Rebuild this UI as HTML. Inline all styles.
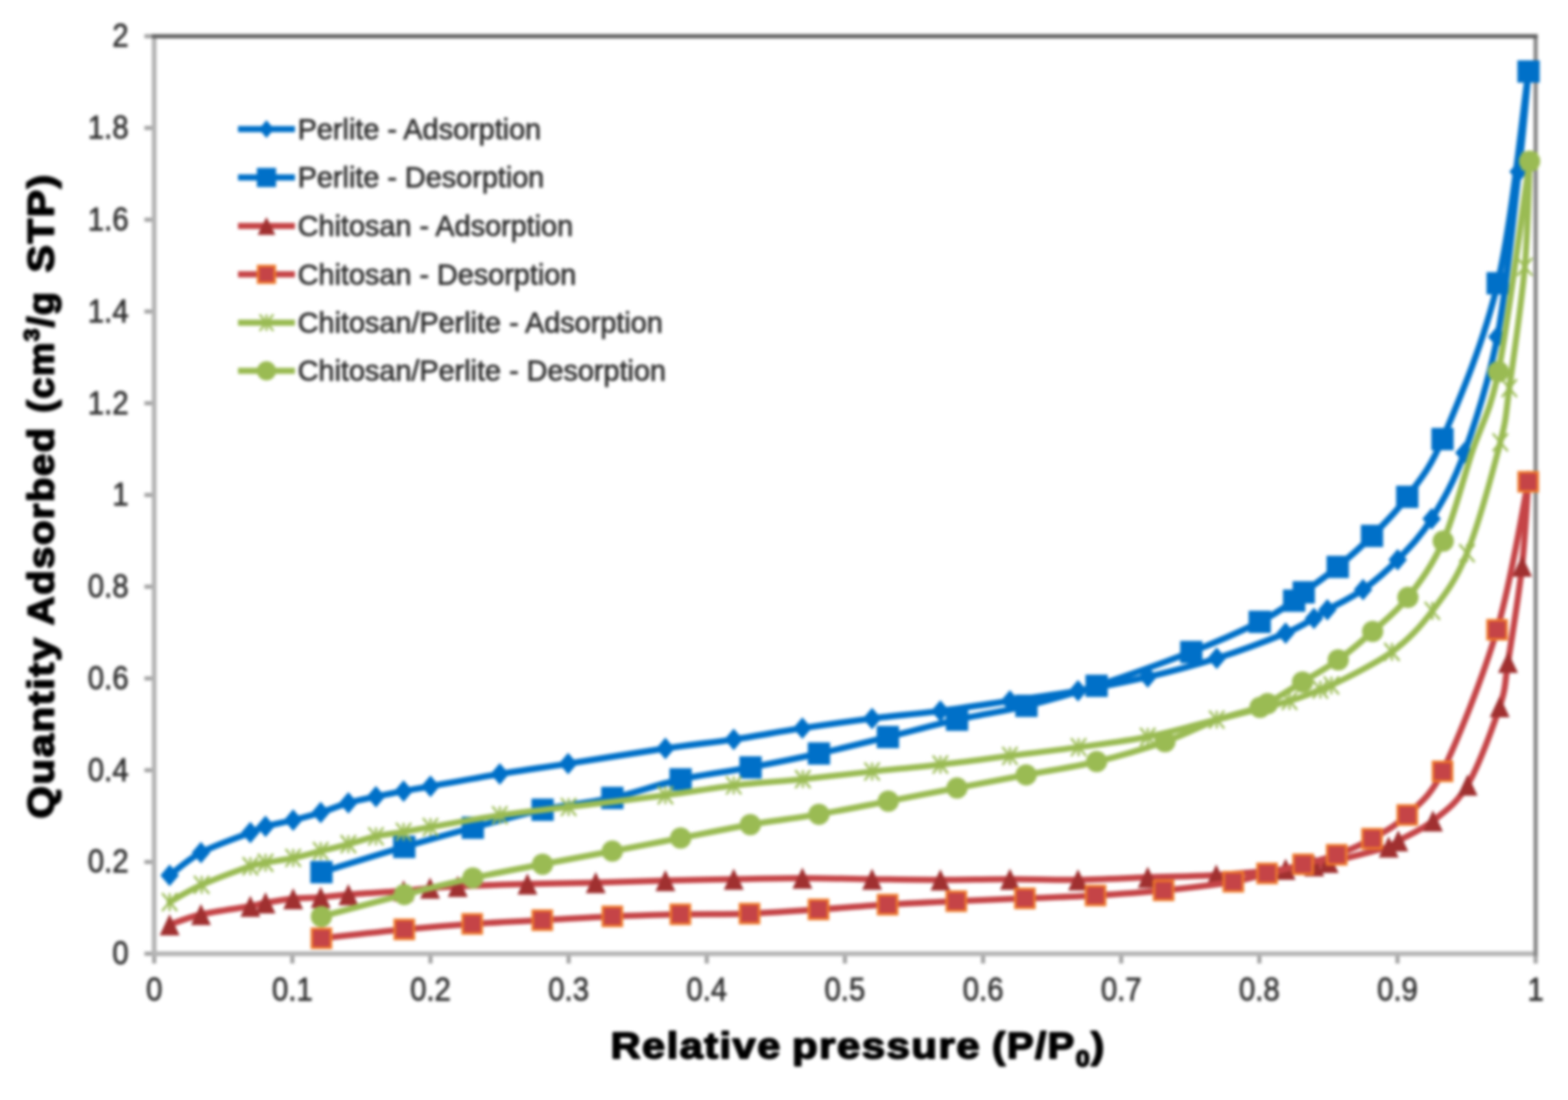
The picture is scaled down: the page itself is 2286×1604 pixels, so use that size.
<!DOCTYPE html>
<html lang="en">
<head>
<meta charset="utf-8">
<title>Nitrogen adsorption-desorption isotherms</title>
<style>
html,body{margin:0;padding:0;background:#fff;}
body{width:2286px;height:1604px;overflow:hidden;font-family:"Liberation Sans",Arial,sans-serif;}
svg{display:block;}
#chart{filter:blur(1.9px);}
</style>
</head>
<body>
<svg xmlns="http://www.w3.org/2000/svg" width="2286" height="1604" viewBox="0 0 2286 1604">
<rect width="2286" height="1604" fill="#fff"/>
<g id="chart">
<g id="axes" fill="none" stroke-width="7">
<path d="M210.5,1390.7 H224.8" stroke="#a2a2a2" stroke-width="6"/>
<path d="M210.5,1256.9 H224.8" stroke="#a2a2a2" stroke-width="6"/>
<path d="M210.5,1123.1 H224.8" stroke="#a2a2a2" stroke-width="6"/>
<path d="M210.5,989.3 H224.8" stroke="#a2a2a2" stroke-width="6"/>
<path d="M210.5,855.5 H224.8" stroke="#a2a2a2" stroke-width="6"/>
<path d="M210.5,721.8 H224.8" stroke="#a2a2a2" stroke-width="6"/>
<path d="M210.5,588 H224.8" stroke="#a2a2a2" stroke-width="6"/>
<path d="M210.5,454.2 H224.8" stroke="#a2a2a2" stroke-width="6"/>
<path d="M210.5,320.4 H224.8" stroke="#a2a2a2" stroke-width="6"/>
<path d="M210.5,186.6 H224.8" stroke="#a2a2a2" stroke-width="6"/>
<path d="M210.5,52.8 H224.8" stroke="#a2a2a2" stroke-width="6"/>
<path d="M224.8,1390.7 V1405" stroke="#a2a2a2" stroke-width="6"/>
<path d="M426.2,1390.7 V1405" stroke="#a2a2a2" stroke-width="6"/>
<path d="M627.6,1390.7 V1405" stroke="#a2a2a2" stroke-width="6"/>
<path d="M829,1390.7 V1405" stroke="#a2a2a2" stroke-width="6"/>
<path d="M1030.4,1390.7 V1405" stroke="#a2a2a2" stroke-width="6"/>
<path d="M1231.8,1390.7 V1405" stroke="#a2a2a2" stroke-width="6"/>
<path d="M1433.2,1390.7 V1405" stroke="#a2a2a2" stroke-width="6"/>
<path d="M1634.6,1390.7 V1405" stroke="#a2a2a2" stroke-width="6"/>
<path d="M1836,1390.7 V1405" stroke="#a2a2a2" stroke-width="6"/>
<path d="M2037.4,1390.7 V1405" stroke="#a2a2a2" stroke-width="6"/>
<path d="M2238.8,1390.7 V1405" stroke="#a2a2a2" stroke-width="6"/>
<path d="M224.8,52.8 V1394.2" stroke="#b4b4b4"/>
<path d="M221.3,1390.7 H2238.8" stroke="#b4b4b4"/>
<path d="M2238.8,52.8 V1394.2" stroke="#888888" stroke-width="6.2"/>
<path d="M221.3,52.8 H2241.9" stroke="#626262" stroke-width="6.2"/>
</g>
<g id="ylabels" font-family="'Liberation Sans', Arial, sans-serif" font-size="48" fill="#2f2f2f" stroke="#2f2f2f" stroke-width="1" text-anchor="end">
<text transform="translate(187.5,1406.2) scale(0.89,1)">0</text>
<text transform="translate(187.5,1272.4) scale(0.89,1)">0.2</text>
<text transform="translate(187.5,1138.6) scale(0.89,1)">0.4</text>
<text transform="translate(187.5,1004.8) scale(0.89,1)">0.6</text>
<text transform="translate(187.5,871) scale(0.89,1)">0.8</text>
<text transform="translate(187.5,737.2) scale(0.89,1)">1</text>
<text transform="translate(187.5,603.5) scale(0.89,1)">1.2</text>
<text transform="translate(187.5,469.7) scale(0.89,1)">1.4</text>
<text transform="translate(187.5,335.9) scale(0.89,1)">1.6</text>
<text transform="translate(187.5,202.1) scale(0.89,1)">1.8</text>
<text transform="translate(187.5,68.3) scale(0.89,1)">2</text>
</g>
<g id="xlabels" font-family="'Liberation Sans', Arial, sans-serif" font-size="48" fill="#2f2f2f" stroke="#2f2f2f" stroke-width="1" text-anchor="middle">
<text transform="translate(224.8,1458.5) scale(0.89,1)">0</text>
<text transform="translate(426.2,1458.5) scale(0.89,1)">0.1</text>
<text transform="translate(627.6,1458.5) scale(0.89,1)">0.2</text>
<text transform="translate(829,1458.5) scale(0.89,1)">0.3</text>
<text transform="translate(1030.4,1458.5) scale(0.89,1)">0.4</text>
<text transform="translate(1231.8,1458.5) scale(0.89,1)">0.5</text>
<text transform="translate(1433.2,1458.5) scale(0.89,1)">0.6</text>
<text transform="translate(1634.6,1458.5) scale(0.89,1)">0.7</text>
<text transform="translate(1836,1458.5) scale(0.89,1)">0.8</text>
<text transform="translate(2037.4,1458.5) scale(0.89,1)">0.9</text>
<text transform="translate(2238.8,1458.5) scale(0.89,1)">1</text>
</g>
<g id="titles" font-family="'Liberation Sans', Arial, sans-serif" font-weight="bold" font-size="53.5" letter-spacing="2" fill="#000" stroke="#000" stroke-width="2.3" stroke-linejoin="round">
<text x="890.3" y="1543" textLength="249.4" lengthAdjust="spacingAndGlyphs">Relative</text>
<text x="1154.8" y="1543" textLength="275.5" lengthAdjust="spacingAndGlyphs">pressure</text>
<text x="1446.3" y="1543" textLength="165.9" lengthAdjust="spacingAndGlyphs">(P/P<tspan font-size="33" dy="12">0</tspan><tspan dy="-12">)</tspan></text>
<text transform="translate(78,1193.7) rotate(-90)" textLength="265.9" lengthAdjust="spacingAndGlyphs">Quantity</text>
<text transform="translate(78,911.7) rotate(-90)" textLength="290" lengthAdjust="spacingAndGlyphs">Adsorbed</text>
<text transform="translate(78,601.7) rotate(-90)" textLength="177.9" lengthAdjust="spacingAndGlyphs">(cm<tspan font-size="32" dy="-21">3</tspan><tspan dy="21">/g</tspan></text>
<text transform="translate(78,397.2) rotate(-90)" textLength="144.4" lengthAdjust="spacingAndGlyphs">STP)</text>
</g>
<g id="s1"><path d="M247.3,1276.4C254.9,1270.9 273.4,1253.6 293,1243.2C312.6,1232.8 349.3,1220.4 365,1214C376.1,1209.5 376.7,1208 387.1,1205C397.5,1202 414,1199.3 427.4,1195.9C440.8,1192.5 454.2,1189 467.6,1184.8C481,1180.6 494.5,1174.5 507.9,1170.7C521.3,1166.9 534.7,1164.5 548.1,1161.7C561.5,1158.9 575.1,1156.1 588.4,1153.6C601.6,1151.1 608,1150.1 627.6,1146.6C651,1142.4 695.2,1134.1 728.7,1128.6C762.2,1123.1 788.1,1119.7 828.3,1113.5C868.5,1107.3 929.9,1097.3 970.1,1091.4C1010.3,1085.5 1036.4,1083.1 1069.7,1078.2C1103,1073.3 1136.2,1066.9 1169.8,1061.8C1203.4,1056.7 1237.9,1051.9 1271.4,1047.7C1304.9,1043.5 1337.5,1041 1371,1036.7C1404.5,1032.4 1439,1026.9 1472.4,1022C1505.9,1017.1 1538.2,1013 1571.7,1007.2C1605.2,1001.4 1639.6,995 1673.3,987.1C1707,979.2 1740.4,970.6 1773.9,959.9C1807.4,949.3 1850.7,932.9 1874.3,923.2C1895.8,914.4 1905.4,907.4 1915.6,901.7C1925.7,896 1925.2,895.1 1935.2,889.2C1947.1,882.2 1970.1,871.9 1987.2,859.7C2004.3,847.5 2021,833.4 2037.7,816.2C2054.4,799 2071,782.5 2087.2,756.5C2103.4,730.5 2118.9,704.4 2134.9,660.2C2150.9,616 2169.8,559.5 2183,491.2C2196.2,422.9 2206.4,314.7 2214,250.2C2221.6,185.7 2226,128.7 2228.4,104.4" fill="none" stroke="#0070c8" stroke-width="9.2" stroke-linejoin="round" stroke-linecap="round"/>
<path d="M247.3,1260.6 l13.5,15.8 l-13.5,15.8 l-13.5,-15.8 z" fill="#0070c8"/>
<path d="M293,1227.4 l13.5,15.8 l-13.5,15.8 l-13.5,-15.8 z" fill="#0070c8"/>
<path d="M365,1198.2 l13.5,15.8 l-13.5,15.8 l-13.5,-15.8 z" fill="#0070c8"/>
<path d="M387.1,1189.2 l13.5,15.8 l-13.5,15.8 l-13.5,-15.8 z" fill="#0070c8"/>
<path d="M427.4,1180.1 l13.5,15.8 l-13.5,15.8 l-13.5,-15.8 z" fill="#0070c8"/>
<path d="M467.6,1169 l13.5,15.8 l-13.5,15.8 l-13.5,-15.8 z" fill="#0070c8"/>
<path d="M507.9,1154.9 l13.5,15.8 l-13.5,15.8 l-13.5,-15.8 z" fill="#0070c8"/>
<path d="M548.1,1145.9 l13.5,15.8 l-13.5,15.8 l-13.5,-15.8 z" fill="#0070c8"/>
<path d="M588.4,1137.8 l13.5,15.8 l-13.5,15.8 l-13.5,-15.8 z" fill="#0070c8"/>
<path d="M627.6,1130.8 l13.5,15.8 l-13.5,15.8 l-13.5,-15.8 z" fill="#0070c8"/>
<path d="M728.7,1112.8 l13.5,15.8 l-13.5,15.8 l-13.5,-15.8 z" fill="#0070c8"/>
<path d="M828.3,1097.7 l13.5,15.8 l-13.5,15.8 l-13.5,-15.8 z" fill="#0070c8"/>
<path d="M970.1,1075.6 l13.5,15.8 l-13.5,15.8 l-13.5,-15.8 z" fill="#0070c8"/>
<path d="M1069.7,1062.4 l13.5,15.8 l-13.5,15.8 l-13.5,-15.8 z" fill="#0070c8"/>
<path d="M1169.8,1046 l13.5,15.8 l-13.5,15.8 l-13.5,-15.8 z" fill="#0070c8"/>
<path d="M1271.4,1031.9 l13.5,15.8 l-13.5,15.8 l-13.5,-15.8 z" fill="#0070c8"/>
<path d="M1371,1020.9 l13.5,15.8 l-13.5,15.8 l-13.5,-15.8 z" fill="#0070c8"/>
<path d="M1472.4,1006.2 l13.5,15.8 l-13.5,15.8 l-13.5,-15.8 z" fill="#0070c8"/>
<path d="M1571.7,991.4 l13.5,15.8 l-13.5,15.8 l-13.5,-15.8 z" fill="#0070c8"/>
<path d="M1673.3,971.3 l13.5,15.8 l-13.5,15.8 l-13.5,-15.8 z" fill="#0070c8"/>
<path d="M1773.9,944.1 l13.5,15.8 l-13.5,15.8 l-13.5,-15.8 z" fill="#0070c8"/>
<path d="M1874.3,907.4 l13.5,15.8 l-13.5,15.8 l-13.5,-15.8 z" fill="#0070c8"/>
<path d="M1915.6,885.9 l13.5,15.8 l-13.5,15.8 l-13.5,-15.8 z" fill="#0070c8"/>
<path d="M1935.2,873.4 l13.5,15.8 l-13.5,15.8 l-13.5,-15.8 z" fill="#0070c8"/>
<path d="M1987.2,843.9 l13.5,15.8 l-13.5,15.8 l-13.5,-15.8 z" fill="#0070c8"/>
<path d="M2037.7,800.4 l13.5,15.8 l-13.5,15.8 l-13.5,-15.8 z" fill="#0070c8"/>
<path d="M2087.2,740.7 l13.5,15.8 l-13.5,15.8 l-13.5,-15.8 z" fill="#0070c8"/>
<path d="M2134.9,644.4 l13.5,15.8 l-13.5,15.8 l-13.5,-15.8 z" fill="#0070c8"/>
<path d="M2183,475.4 l13.5,15.8 l-13.5,15.8 l-13.5,-15.8 z" fill="#0070c8"/>
<path d="M2214,234.4 l13.5,15.8 l-13.5,15.8 l-13.5,-15.8 z" fill="#0070c8"/>
<path d="M2228.4,88.6 l13.5,15.8 l-13.5,15.8 l-13.5,-15.8 z" fill="#0070c8"/></g>
<g id="s2"><path d="M468.6,1271.8C488.7,1265.7 552.6,1245.7 589.4,1234.9C626.2,1224.1 655.8,1215.9 689.4,1206.9C723,1197.9 757.1,1187.9 791,1180.7C824.9,1173.5 859.2,1171 892.7,1163.6C926.2,1156.2 958.7,1143.9 992.3,1136.5C1025.9,1129.1 1060.7,1125.3 1094.3,1119C1127.9,1112.7 1160.5,1106.2 1193.9,1098.8C1227.3,1091.4 1261,1082.9 1294.5,1074.7C1328,1066.5 1361.5,1057.1 1395.2,1049.5C1428.9,1041.9 1462.6,1037.5 1496.5,1029.2C1530.4,1021 1558.8,1013.1 1598.8,1000C1638.8,986.9 1697.1,966.2 1736.7,950.7C1776.3,935.2 1811.6,919.3 1836.6,906.8C1861.6,894.3 1876,883.1 1886.7,875.9C1894.4,870.7 1893.5,869.5 1900.8,863.8C1911.4,855.6 1933.6,840.3 1950.2,826.6C1966.8,812.9 1983.4,798.5 2000.3,781.5C2017.2,764.5 2034.6,748 2051.7,724.5C2068.8,701 2083.9,685.7 2103.1,640.3C2125.1,588.4 2162.6,502.3 2183.5,413C2204.4,323.7 2220.9,155.7 2228.4,104.2" fill="none" stroke="#0070c8" stroke-width="9.2" stroke-linejoin="round" stroke-linecap="round"/>
<rect x="452.4" y="1255.5" width="32.5" height="32.5" fill="#0070c8"/>
<rect x="573.1" y="1218.7" width="32.5" height="32.5" fill="#0070c8"/>
<rect x="673.1" y="1190.7" width="32.5" height="32.5" fill="#0070c8"/>
<rect x="774.8" y="1164.5" width="32.5" height="32.5" fill="#0070c8"/>
<rect x="876.5" y="1147.3" width="32.5" height="32.5" fill="#0070c8"/>
<rect x="976" y="1120.2" width="32.5" height="32.5" fill="#0070c8"/>
<rect x="1078" y="1102.8" width="32.5" height="32.5" fill="#0070c8"/>
<rect x="1177.7" y="1082.5" width="32.5" height="32.5" fill="#0070c8"/>
<rect x="1278.2" y="1058.5" width="32.5" height="32.5" fill="#0070c8"/>
<rect x="1379" y="1033.2" width="32.5" height="32.5" fill="#0070c8"/>
<rect x="1480.2" y="1013" width="32.5" height="32.5" fill="#0070c8"/>
<rect x="1582.5" y="983.8" width="32.5" height="32.5" fill="#0070c8"/>
<rect x="1720.5" y="934.5" width="32.5" height="32.5" fill="#0070c8"/>
<rect x="1820.3" y="890.5" width="32.5" height="32.5" fill="#0070c8"/>
<rect x="1870.5" y="859.6" width="32.5" height="32.5" fill="#0070c8"/>
<rect x="1884.5" y="847.5" width="32.5" height="32.5" fill="#0070c8"/>
<rect x="1934" y="810.4" width="32.5" height="32.5" fill="#0070c8"/>
<rect x="1984" y="765.2" width="32.5" height="32.5" fill="#0070c8"/>
<rect x="2035.4" y="708.2" width="32.5" height="32.5" fill="#0070c8"/>
<rect x="2086.8" y="624" width="32.5" height="32.5" fill="#0070c8"/>
<rect x="2167.2" y="396.8" width="32.5" height="32.5" fill="#0070c8"/>
<rect x="2212.2" y="88" width="32.5" height="32.5" fill="#0070c8"/></g>
<g id="s3"><path d="M247.3,1348.4C254.9,1345.9 273.4,1338 293,1333.5C312.6,1329 349.3,1324.3 365,1321.5C376.2,1319.5 376.7,1318.2 387.1,1316.4C397.5,1314.6 414,1311.7 427.4,1310.4C440.8,1309.1 454.2,1309.4 467.6,1308.4C481,1307.4 487.8,1306 507.9,1304.4C528,1302.8 568.5,1300.6 588.4,1299C607.7,1297.5 613.9,1296.1 627,1295C640.1,1293.9 647.1,1293.3 667.3,1292.4C690.9,1291.4 735.4,1289.9 768.9,1289C802.4,1288.1 835,1287.8 868.5,1287C902,1286.2 936.6,1284.8 970.1,1284C1003.6,1283.2 1036.4,1282.6 1069.7,1282C1103,1281.4 1136.2,1280.4 1169.8,1280.4C1203.4,1280.4 1237.9,1281.6 1271.4,1282C1304.9,1282.4 1337.5,1283 1371,1283C1404.5,1283 1439,1282 1472.4,1282C1505.9,1282 1538.2,1283.5 1571.7,1283C1605.2,1282.5 1639.7,1280.5 1673.3,1279.3C1706.9,1278.1 1739.7,1278 1773.2,1276C1806.7,1274 1850.5,1269.8 1874.3,1267.5C1895.2,1265.5 1905.5,1264.2 1916,1262.5C1926.5,1260.8 1926.5,1260.1 1937,1257.5C1955.1,1252.9 2007.7,1240.2 2024.6,1235C2032.5,1232.5 2031.4,1230.2 2038.6,1226C2049.3,1219.7 2072.3,1210.5 2089.1,1197C2105.9,1183.5 2123.4,1172.5 2139.6,1144.8C2155.8,1117 2176.6,1060.3 2186.4,1030.5C2196.2,1000.7 2193.3,998.3 2198.5,965.8C2203.9,931.6 2214.1,869.6 2219,825.5C2223.9,781.4 2226.5,721.8 2228,701" fill="none" stroke="#c54447" stroke-width="9" stroke-linejoin="round" stroke-linecap="round"/>
<path d="M247.3,1332.9 l14.5,31 l-29,0 z" fill="#a03030"/>
<path d="M293,1318 l14.5,31 l-29,0 z" fill="#a03030"/>
<path d="M365,1306 l14.5,31 l-29,0 z" fill="#a03030"/>
<path d="M387.1,1300.9 l14.5,31 l-29,0 z" fill="#a03030"/>
<path d="M427.4,1294.9 l14.5,31 l-29,0 z" fill="#a03030"/>
<path d="M467.6,1292.9 l14.5,31 l-29,0 z" fill="#a03030"/>
<path d="M507.9,1288.9 l14.5,31 l-29,0 z" fill="#a03030"/>
<path d="M588.4,1283.5 l14.5,31 l-29,0 z" fill="#a03030"/>
<path d="M627,1279.5 l14.5,31 l-29,0 z" fill="#a03030"/>
<path d="M667.3,1276.9 l14.5,31 l-29,0 z" fill="#a03030"/>
<path d="M768.9,1273.5 l14.5,31 l-29,0 z" fill="#a03030"/>
<path d="M868.5,1271.5 l14.5,31 l-29,0 z" fill="#a03030"/>
<path d="M970.1,1268.5 l14.5,31 l-29,0 z" fill="#a03030"/>
<path d="M1069.7,1266.5 l14.5,31 l-29,0 z" fill="#a03030"/>
<path d="M1169.8,1264.9 l14.5,31 l-29,0 z" fill="#a03030"/>
<path d="M1271.4,1266.5 l14.5,31 l-29,0 z" fill="#a03030"/>
<path d="M1371,1267.5 l14.5,31 l-29,0 z" fill="#a03030"/>
<path d="M1472.4,1266.5 l14.5,31 l-29,0 z" fill="#a03030"/>
<path d="M1571.7,1267.5 l14.5,31 l-29,0 z" fill="#a03030"/>
<path d="M1673.3,1263.8 l14.5,31 l-29,0 z" fill="#a03030"/>
<path d="M1773.2,1260.5 l14.5,31 l-29,0 z" fill="#a03030"/>
<path d="M1874.3,1252 l14.5,31 l-29,0 z" fill="#a03030"/>
<path d="M1916,1247 l14.5,31 l-29,0 z" fill="#a03030"/>
<path d="M1937,1242 l14.5,31 l-29,0 z" fill="#a03030"/>
<path d="M2024.6,1219.5 l14.5,31 l-29,0 z" fill="#a03030"/>
<path d="M2038.6,1210.5 l14.5,31 l-29,0 z" fill="#a03030"/>
<path d="M2089.1,1181.5 l14.5,31 l-29,0 z" fill="#a03030"/>
<path d="M2139.6,1129.3 l14.5,31 l-29,0 z" fill="#a03030"/>
<path d="M2186.4,1015 l14.5,31 l-29,0 z" fill="#a03030"/>
<path d="M2198.5,950.3 l14.5,31 l-29,0 z" fill="#a03030"/>
<path d="M2219,810 l14.5,31 l-29,0 z" fill="#a03030"/>
<path d="M2228,685.5 l14.5,31 l-29,0 z" fill="#a03030"/></g>
<g id="s4"><path d="M468.6,1368.2C488.7,1366 552.8,1358.7 589.4,1355.2C626,1351.7 654.9,1349.4 688.4,1347.2C721.9,1345 756.5,1343.6 790.6,1341.8C824.7,1340 859.2,1337.6 892.7,1336.2C926.2,1334.8 958.6,1333.9 991.9,1333.2C1025.2,1332.5 1059.1,1333.4 1092.7,1332.2C1126.3,1331 1159.8,1328.3 1193.3,1326.1C1226.8,1323.9 1260.5,1321.1 1294,1319.1C1327.5,1317.1 1360.8,1315.6 1394.2,1314.1C1427.6,1312.6 1460.4,1311.4 1494.2,1310C1528,1308.6 1563.5,1307.8 1597.2,1305.8C1630.9,1303.8 1662.9,1301.6 1696.4,1298.3C1729.9,1295 1772.9,1289.8 1798.1,1285.7C1823.1,1281.6 1830.3,1277.8 1847.3,1273.6C1864.2,1269.4 1882.9,1264.8 1899.8,1260.3C1916.7,1255.8 1932,1252.6 1948.8,1246.4C1965.5,1240.2 1983.2,1232.7 2000.3,1223C2017.4,1213.3 2034.6,1204.8 2051.7,1188.4C2068.8,1172 2085.3,1161.6 2103.1,1124.8C2124.9,1079.8 2161.8,988.7 2182.6,918.3C2203.4,847.9 2220.4,738.5 2228,702.5" fill="none" stroke="#c54447" stroke-width="9" stroke-linejoin="round" stroke-linecap="round"/>
<rect x="454.6" y="1354.2" width="28" height="28" fill="#c54447" stroke="#f07a28" stroke-width="3.5"/>
<rect x="575.4" y="1341.2" width="28" height="28" fill="#c54447" stroke="#f07a28" stroke-width="3.5"/>
<rect x="674.4" y="1333.2" width="28" height="28" fill="#c54447" stroke="#f07a28" stroke-width="3.5"/>
<rect x="776.6" y="1327.8" width="28" height="28" fill="#c54447" stroke="#f07a28" stroke-width="3.5"/>
<rect x="878.7" y="1322.2" width="28" height="28" fill="#c54447" stroke="#f07a28" stroke-width="3.5"/>
<rect x="977.9" y="1319.2" width="28" height="28" fill="#c54447" stroke="#f07a28" stroke-width="3.5"/>
<rect x="1078.7" y="1318.2" width="28" height="28" fill="#c54447" stroke="#f07a28" stroke-width="3.5"/>
<rect x="1179.3" y="1312.1" width="28" height="28" fill="#c54447" stroke="#f07a28" stroke-width="3.5"/>
<rect x="1280" y="1305.1" width="28" height="28" fill="#c54447" stroke="#f07a28" stroke-width="3.5"/>
<rect x="1380.2" y="1300.1" width="28" height="28" fill="#c54447" stroke="#f07a28" stroke-width="3.5"/>
<rect x="1480.2" y="1296" width="28" height="28" fill="#c54447" stroke="#f07a28" stroke-width="3.5"/>
<rect x="1583.2" y="1291.8" width="28" height="28" fill="#c54447" stroke="#f07a28" stroke-width="3.5"/>
<rect x="1682.4" y="1284.3" width="28" height="28" fill="#c54447" stroke="#f07a28" stroke-width="3.5"/>
<rect x="1784.1" y="1271.7" width="28" height="28" fill="#c54447" stroke="#f07a28" stroke-width="3.5"/>
<rect x="1833.3" y="1259.6" width="28" height="28" fill="#c54447" stroke="#f07a28" stroke-width="3.5"/>
<rect x="1885.8" y="1246.3" width="28" height="28" fill="#c54447" stroke="#f07a28" stroke-width="3.5"/>
<rect x="1934.8" y="1232.4" width="28" height="28" fill="#c54447" stroke="#f07a28" stroke-width="3.5"/>
<rect x="1986.3" y="1209" width="28" height="28" fill="#c54447" stroke="#f07a28" stroke-width="3.5"/>
<rect x="2037.7" y="1174.4" width="28" height="28" fill="#c54447" stroke="#f07a28" stroke-width="3.5"/>
<rect x="2089.1" y="1110.8" width="28" height="28" fill="#c54447" stroke="#f07a28" stroke-width="3.5"/>
<rect x="2168.6" y="904.3" width="28" height="28" fill="#c54447" stroke="#f07a28" stroke-width="3.5"/>
<rect x="2214" y="688.5" width="28" height="28" fill="#c54447" stroke="#f07a28" stroke-width="3.5"/></g>
<g id="s5"><path d="M247.3,1315.4C255.1,1311.2 274.4,1299 294,1290.3C313.6,1281.6 349.5,1268.5 365,1263.1C375.7,1259.4 376.7,1260.1 387.1,1258.1C397.5,1256.1 414,1253.8 427.4,1251C440.8,1248.2 454.2,1244.3 467.6,1241C481,1237.7 494.5,1234.5 507.9,1230.9C521.3,1227.3 534.7,1222.5 548.1,1219.5C561.5,1216.5 575.1,1215.2 588.4,1213C601.6,1210.8 608,1209.4 627.6,1206C651,1202 695.1,1193.7 728.7,1188.8C762.3,1183.9 788.8,1181.6 829,1176.7C869.2,1171.8 930,1164.8 970.1,1159.6C1010.2,1154.4 1036.3,1149.2 1069.7,1145.3C1103.1,1141.4 1136.9,1139.5 1170.5,1136.1C1204.1,1132.7 1238,1128.5 1271.4,1125C1304.8,1121.5 1337.5,1118.7 1371,1114.9C1404.5,1111.1 1438.8,1106.4 1472.4,1102.2C1506,1098 1539,1094.1 1572.5,1089.5C1606,1084.9 1639.7,1081.1 1673.3,1074.4C1706.9,1067.7 1739.5,1058 1773.9,1049.3C1808.4,1040.6 1854.8,1029.3 1880,1022C1903,1015.3 1914.8,1009.2 1925,1005.5C1933,1002.5 1933.4,1003.5 1941,999.5C1958.4,990.4 2004.8,968.7 2029.3,950.6C2053.8,932.5 2070,914.8 2088.2,890.8C2106.4,866.8 2122.2,847.6 2138.7,806.6C2155.2,765.6 2177,685.1 2187.3,645C2197.2,606.2 2194.9,605.7 2200.4,566C2206.3,523.3 2218.1,444.2 2223,389C2227.9,333.8 2228.8,260.7 2230,235" fill="none" stroke="#9abb53" stroke-width="8.8" stroke-linejoin="round" stroke-linecap="round"/>
<path d="M236.3,1302.4 l22,26 M236.3,1328.4 l22,-26 M247.3,1302.4 l0,26" stroke="#9abb53" stroke-width="3.2" stroke-opacity="1" fill="none"/>
<path d="M283,1277.3 l22,26 M283,1303.3 l22,-26 M294,1277.3 l0,26" stroke="#9abb53" stroke-width="3.2" stroke-opacity="1" fill="none"/>
<path d="M354,1250.1 l22,26 M354,1276.1 l22,-26 M365,1250.1 l0,26" stroke="#9abb53" stroke-width="3.2" stroke-opacity="1" fill="none"/>
<path d="M376.1,1245.1 l22,26 M376.1,1271.1 l22,-26 M387.1,1245.1 l0,26" stroke="#9abb53" stroke-width="3.2" stroke-opacity="1" fill="none"/>
<path d="M416.4,1238 l22,26 M416.4,1264 l22,-26 M427.4,1238 l0,26" stroke="#9abb53" stroke-width="3.2" stroke-opacity="1" fill="none"/>
<path d="M456.6,1228 l22,26 M456.6,1254 l22,-26 M467.6,1228 l0,26" stroke="#9abb53" stroke-width="3.2" stroke-opacity="1" fill="none"/>
<path d="M496.9,1217.9 l22,26 M496.9,1243.9 l22,-26 M507.9,1217.9 l0,26" stroke="#9abb53" stroke-width="3.2" stroke-opacity="1" fill="none"/>
<path d="M537.1,1206.5 l22,26 M537.1,1232.5 l22,-26 M548.1,1206.5 l0,26" stroke="#9abb53" stroke-width="3.2" stroke-opacity="1" fill="none"/>
<path d="M577.4,1200 l22,26 M577.4,1226 l22,-26 M588.4,1200 l0,26" stroke="#9abb53" stroke-width="3.2" stroke-opacity="1" fill="none"/>
<path d="M616.6,1193 l22,26 M616.6,1219 l22,-26 M627.6,1193 l0,26" stroke="#9abb53" stroke-width="3.2" stroke-opacity="1" fill="none"/>
<path d="M717.7,1175.8 l22,26 M717.7,1201.8 l22,-26 M728.7,1175.8 l0,26" stroke="#9abb53" stroke-width="3.2" stroke-opacity="1" fill="none"/>
<path d="M818,1163.7 l22,26 M818,1189.7 l22,-26 M829,1163.7 l0,26" stroke="#9abb53" stroke-width="3.2" stroke-opacity="1" fill="none"/>
<path d="M959.1,1146.6 l22,26 M959.1,1172.6 l22,-26 M970.1,1146.6 l0,26" stroke="#9abb53" stroke-width="3.2" stroke-opacity="1" fill="none"/>
<path d="M1058.7,1132.3 l22,26 M1058.7,1158.3 l22,-26 M1069.7,1132.3 l0,26" stroke="#9abb53" stroke-width="3.2" stroke-opacity="1" fill="none"/>
<path d="M1159.5,1123.1 l22,26 M1159.5,1149.1 l22,-26 M1170.5,1123.1 l0,26" stroke="#9abb53" stroke-width="3.2" stroke-opacity="1" fill="none"/>
<path d="M1260.4,1112 l22,26 M1260.4,1138 l22,-26 M1271.4,1112 l0,26" stroke="#9abb53" stroke-width="3.2" stroke-opacity="1" fill="none"/>
<path d="M1360,1101.9 l22,26 M1360,1127.9 l22,-26 M1371,1101.9 l0,26" stroke="#9abb53" stroke-width="3.2" stroke-opacity="1" fill="none"/>
<path d="M1461.4,1089.2 l22,26 M1461.4,1115.2 l22,-26 M1472.4,1089.2 l0,26" stroke="#9abb53" stroke-width="3.2" stroke-opacity="1" fill="none"/>
<path d="M1561.5,1076.5 l22,26 M1561.5,1102.5 l22,-26 M1572.5,1076.5 l0,26" stroke="#9abb53" stroke-width="3.2" stroke-opacity="1" fill="none"/>
<path d="M1662.3,1061.4 l22,26 M1662.3,1087.4 l22,-26 M1673.3,1061.4 l0,26" stroke="#9abb53" stroke-width="3.2" stroke-opacity="1" fill="none"/>
<path d="M1762.9,1036.3 l22,26 M1762.9,1062.3 l22,-26 M1773.9,1036.3 l0,26" stroke="#9abb53" stroke-width="3.2" stroke-opacity="1" fill="none"/>
<path d="M1869,1009 l22,26 M1869,1035 l22,-26 M1880,1009 l0,26" stroke="#9abb53" stroke-width="3.2" stroke-opacity="1" fill="none"/>
<path d="M1914,992.5 l22,26 M1914,1018.5 l22,-26 M1925,992.5 l0,26" stroke="#9abb53" stroke-width="3.2" stroke-opacity="1" fill="none"/>
<path d="M1930,986.5 l22,26 M1930,1012.5 l22,-26 M1941,986.5 l0,26" stroke="#9abb53" stroke-width="3.2" stroke-opacity="1" fill="none"/>
<path d="M2018.3,937.6 l22,26 M2018.3,963.6 l22,-26 M2029.3,937.6 l0,26" stroke="#9abb53" stroke-width="3.2" stroke-opacity="1" fill="none"/>
<path d="M2077.2,877.8 l22,26 M2077.2,903.8 l22,-26 M2088.2,877.8 l0,26" stroke="#9abb53" stroke-width="3.2" stroke-opacity="1" fill="none"/>
<path d="M2127.7,793.6 l22,26 M2127.7,819.6 l22,-26 M2138.7,793.6 l0,26" stroke="#9abb53" stroke-width="3.2" stroke-opacity="1" fill="none"/>
<path d="M2176.3,632 l22,26 M2176.3,658 l22,-26 M2187.3,632 l0,26" stroke="#9abb53" stroke-width="3.2" stroke-opacity="1" fill="none"/>
<path d="M2189.4,553 l22,26 M2189.4,579 l22,-26 M2200.4,553 l0,26" stroke="#9abb53" stroke-width="3.2" stroke-opacity="1" fill="none"/>
<path d="M2212,376 l22,26 M2212,402 l22,-26 M2223,376 l0,26" stroke="#9abb53" stroke-width="3.2" stroke-opacity="1" fill="none"/>
<path d="M2219,222 l22,26 M2219,248 l22,-26 M2230,222 l0,26" stroke="#9abb53" stroke-width="3.2" stroke-opacity="1" fill="none"/></g>
<g id="s6"><path d="M468.6,1336.5C488.7,1331.2 552.6,1313.8 589.4,1304.4C626.2,1295 655.8,1287.7 689.4,1280.3C723,1272.9 757.1,1266.7 791,1260.2C824.9,1253.7 859.2,1247.5 892.7,1241.1C926.2,1234.7 958.8,1228.4 992.3,1222C1025.8,1215.6 1060.3,1208.3 1093.9,1202.5C1127.5,1196.7 1160.4,1193.1 1193.9,1187.4C1227.4,1181.7 1261.5,1174.7 1295,1168.3C1328.5,1161.9 1361.7,1155.5 1395.2,1149.1C1428.7,1142.7 1462.1,1136.3 1496,1129.9C1529.9,1123.5 1565.1,1118.7 1598.8,1110.6C1632.5,1102.5 1669.2,1091.6 1698.4,1081.5C1727.6,1071.4 1750.8,1058.1 1773.9,1049.8C1797,1041.5 1824.7,1035.5 1837,1031.5C1842.9,1029.6 1842.7,1029.2 1848,1026C1858.3,1019.8 1881.8,1005.1 1899,994.5C1916.2,983.9 1934,974.5 1951,962.2C1968,949.9 1984.3,935.9 2001.2,920.7C2018.1,905.5 2035.4,893.1 2052.6,871.1C2069.8,849.1 2088.6,824 2104.1,789C2119.6,754 2132.1,702.2 2145.5,661C2158.9,619.8 2172.3,603.4 2184.5,542C2198.6,471 2222.4,286.2 2230,235" fill="none" stroke="#9abb53" stroke-width="9" stroke-linejoin="round" stroke-linecap="round"/>
<circle cx="468.6" cy="1336.5" r="15.5" fill="#9abb53"/>
<circle cx="589.4" cy="1304.4" r="15.5" fill="#9abb53"/>
<circle cx="689.4" cy="1280.3" r="15.5" fill="#9abb53"/>
<circle cx="791" cy="1260.2" r="15.5" fill="#9abb53"/>
<circle cx="892.7" cy="1241.1" r="15.5" fill="#9abb53"/>
<circle cx="992.3" cy="1222" r="15.5" fill="#9abb53"/>
<circle cx="1093.9" cy="1202.5" r="15.5" fill="#9abb53"/>
<circle cx="1193.9" cy="1187.4" r="15.5" fill="#9abb53"/>
<circle cx="1295" cy="1168.3" r="15.5" fill="#9abb53"/>
<circle cx="1395.2" cy="1149.1" r="15.5" fill="#9abb53"/>
<circle cx="1496" cy="1129.9" r="15.5" fill="#9abb53"/>
<circle cx="1598.8" cy="1110.6" r="15.5" fill="#9abb53"/>
<circle cx="1698.4" cy="1081.5" r="15.5" fill="#9abb53"/>
<circle cx="1837" cy="1031.5" r="15.5" fill="#9abb53"/>
<circle cx="1848" cy="1026" r="15.5" fill="#9abb53"/>
<circle cx="1899" cy="994.5" r="15.5" fill="#9abb53"/>
<circle cx="1951" cy="962.2" r="15.5" fill="#9abb53"/>
<circle cx="2001.2" cy="920.7" r="15.5" fill="#9abb53"/>
<circle cx="2052.6" cy="871.1" r="15.5" fill="#9abb53"/>
<circle cx="2104.1" cy="789" r="15.5" fill="#9abb53"/>
<circle cx="2184.5" cy="542" r="15.5" fill="#9abb53"/>
<circle cx="2230" cy="235" r="15.5" fill="#9abb53"/></g>
<g id="legend" font-family="'Liberation Sans', Arial, sans-serif" font-size="42" fill="#2f2f2f">
<path d="M347,188.2 H430" stroke="#0070c8" stroke-width="9"/>
<path d="M388.5,175.2 l11,13 l-11,13 l-11,-13 z" fill="#0070c8"/>
<text x="434" y="202.7" stroke="#2f2f2f" stroke-width="1">Perlite - Adsorption</text>
<path d="M347,258.8 H430" stroke="#0070c8" stroke-width="9"/>
<rect x="374.5" y="244.8" width="28" height="28" fill="#0070c8"/>
<text x="434" y="273.3" stroke="#2f2f2f" stroke-width="1">Perlite - Desorption</text>
<path d="M347,329.6 H430" stroke="#c54447" stroke-width="9"/>
<path d="M388.5,316.6 l13,26 l-26,0 z" fill="#a03030"/>
<text x="434" y="344.1" stroke="#2f2f2f" stroke-width="1">Chitosan - Adsorption</text>
<path d="M347,400 H430" stroke="#c54447" stroke-width="9"/>
<rect x="376.2" y="387.8" width="24.5" height="24.5" fill="#c54447" stroke="#f07a28" stroke-width="3.5"/>
<text x="434" y="414.5" stroke="#2f2f2f" stroke-width="1">Chitosan - Desorption</text>
<path d="M347,470.4 H430" stroke="#9abb53" stroke-width="9"/>
<path d="M378.5,458.4 l20,24 M378.5,482.4 l20,-24 M388.5,458.4 l0,24" stroke="#9abb53" stroke-width="3.2" stroke-opacity="1" fill="none"/>
<text x="434" y="484.9" stroke="#2f2f2f" stroke-width="1">Chitosan/Perlite - Adsorption</text>
<path d="M347,540.8 H430" stroke="#9abb53" stroke-width="9"/>
<circle cx="388.5" cy="540.8" r="14" fill="#9abb53"/>
<text x="434" y="555.3" stroke="#2f2f2f" stroke-width="1">Chitosan/Perlite - Desorption</text>
</g>
</g>
</svg>
</body>
</html>
